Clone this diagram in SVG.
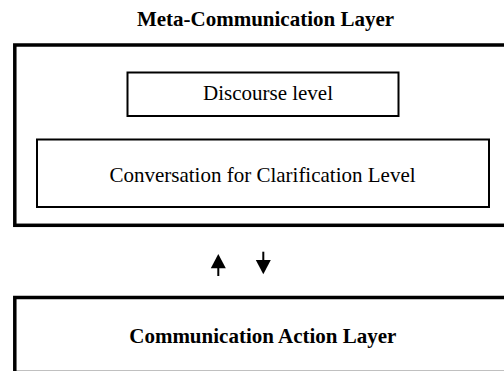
<svg xmlns="http://www.w3.org/2000/svg" width="504" height="371" viewBox="0 0 504 371">
<style>
.layer{fill:#fff;stroke:#000;stroke-width:3.5}
.box{fill:#fff;stroke:#000;stroke-width:2}
.t{font-family:"Liberation Serif","Times New Roman",serif;font-size:21px;fill:#000;text-anchor:middle}
.b{font-weight:bold}
.shaft{stroke:#000;stroke-width:2;fill:none}
.head{fill:#000}
</style>
<rect width="504" height="371" fill="#fff"/>
<text class="t b" x="265.5" y="25.5">Meta-Communication Layer</text>
<g id="meta-layer">
<rect class="layer" x="14.8" y="45" width="500" height="180.3"/>
</g>
<g id="discourse">
<rect class="box" x="127.5" y="72.5" width="271" height="43.5"/>
<text class="t" x="268" y="100">Discourse level</text>
</g>
<g id="clarification">
<rect class="box" x="37" y="139.5" width="452" height="67.5"/>
<text class="t" x="262.5" y="181.7">Conversation for Clarification Level</text>
</g>
<g id="connectors">
<line class="shaft" x1="218.3" y1="266" x2="218.3" y2="276"/>
<polygon class="head" points="218.3,254 210.8,268.3 225.8,268.3"/>
<line class="shaft" x1="263.3" y1="251.7" x2="263.3" y2="262"/>
<polygon class="head" points="263.3,274.3 255.8,260 270.8,260"/>
</g>
<g id="action-layer">
<rect class="layer" x="14.8" y="297.5" width="500" height="75"/>
<text class="t b" x="262.8" y="343.3">Communication Action Layer</text>
</g>
</svg>
